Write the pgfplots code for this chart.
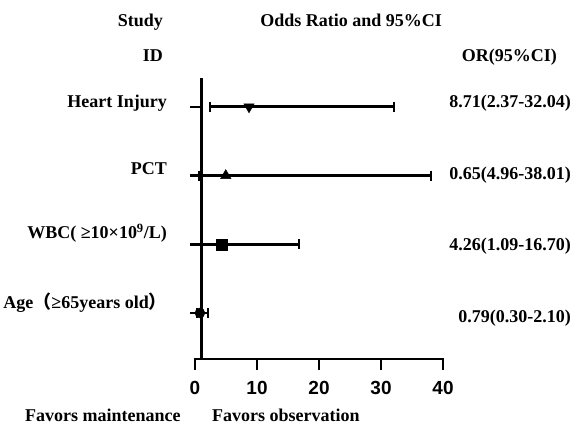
\documentclass[border=0pt]{standalone}
\usepackage{pgfplots}
\pgfplotsset{compat=1.18}
\usepackage{fontspec}
\setmainfont{Liberation Serif}
\newfontfamily\cjk{Noto Sans CJK SC}
\newfontfamily\tickfont{Liberation Sans}
\newcommand\lab{\fontsize{18}{20}\selectfont\bfseries}
\begin{document}
\begin{tikzpicture}
\path[use as bounding box] (0pt,0pt) rectangle (577pt,-427pt);
\begin{axis}[
  at={(195pt,-359pt)}, anchor=south west,
  scale only axis, width=248pt, height=281pt,
  xmin=0, xmax=40, ymin=0.33, ymax=4.42,
  axis x line=bottom, axis y line=none,
  axis line style={-, line width=2.8pt, black},
  xtick={0,20,40}, extra x ticks={10,30},
  extra x tick style={every tick/.style={line width=1.6pt, black}},
  tick align=outside, major tick length=11pt,
  every tick/.style={line width=2.8pt, black},
  /pgf/number format/assume math mode=true,
  xticklabel style={font=\tickfont\bfseries\fontsize{19}{20}\selectfont, yshift=-8pt},
  clip=false,
]
% x axis line and reference line at OR = 1 with row ticks
\addplot[line width=2.8pt, black] coordinates {(-0.2,0.33) (40.2,0.33)};
\addplot[line width=2.8pt, black] coordinates {(1,0.33) (1,4.42)};
\addplot[line width=2.6pt, black] coordinates {(-0.8,4) (1,4)};
\addplot[line width=2.6pt, black] coordinates {(-0.8,3) (1,3)};
\addplot[line width=2.6pt, black] coordinates {(-0.8,2) (1,2)};
\addplot[line width=2.6pt, black] coordinates {(-0.8,1) (1,1)};
% CI lines
\addplot[line width=2.8pt, mark=|, mark size=5pt, mark options={line width=2pt, solid}] coordinates {(2.37,4) (32.04,4)};
\addplot[line width=2.8pt, mark=|, mark size=5pt, mark options={line width=2pt, solid}] coordinates {(0.65,3) (38.01,3)};
\addplot[line width=2.8pt, mark=|, mark size=5pt, mark options={line width=2pt, solid}] coordinates {(1.09,2) (16.70,2)};
\addplot[line width=2.8pt, mark=|, mark size=5pt, mark options={line width=2pt, solid}] coordinates {(0.30,1) (2.10,1)};
% point estimates
\addplot[only marks, mark=triangle*, mark size=6pt, mark options={rotate=180, fill=black, draw=black}] coordinates {(8.71,4)};
\addplot[only marks, mark=triangle*, mark size=6pt, mark options={fill=black, draw=black}] coordinates {(4.96,3)};
\addplot[only marks, mark=square*, mark size=5.5pt, mark options={fill=black, draw=black}] coordinates {(4.26,2)};
\addplot[only marks, mark=*, mark size=5pt, mark options={fill=black, draw=black}] coordinates {(0.79,1)};
\end{axis}
\begin{scope}[font=\lab]
\node[anchor=base east, inner sep=0] at (163pt,-27pt) {Study};
\node[anchor=base east, inner sep=0] at (442pt,-27pt) {Odds Ratio and 95\%CI};
\node[anchor=base east, inner sep=0] at (163pt,-62pt) {ID};
\node[anchor=base east, inner sep=0] at (557pt,-62pt) {OR(95\%CI)};
\node[anchor=base east, inner sep=0] at (167pt,-108pt) {Heart Injury};
\node[anchor=base east, inner sep=0] at (167pt,-175pt) {PCT};
\node[anchor=base east, inner sep=0] at (167pt,-239pt) {WBC( ≥10×10\textsuperscript{9}/L)};
\node[anchor=base east, inner sep=0] at (167pt,-308pt) {Age{\cjk（}≥65years old{\cjk）}};
\node[anchor=base east, inner sep=0] at (571pt,-108pt) {8.71(2.37-32.04)};
\node[anchor=base east, inner sep=0] at (571pt,-180pt) {0.65(4.96-38.01)};
\node[anchor=base east, inner sep=0] at (571pt,-251pt) {4.26(1.09-16.70)};
\node[anchor=base east, inner sep=0] at (571pt,-322pt) {0.79(0.30-2.10)};
\node[anchor=base west, inner sep=0] at (25pt,-421pt) {Favors maintenance};
\node[anchor=base west, inner sep=0] at (212pt,-421pt) {Favors observation};
\end{scope}
\end{tikzpicture}
\end{document}
